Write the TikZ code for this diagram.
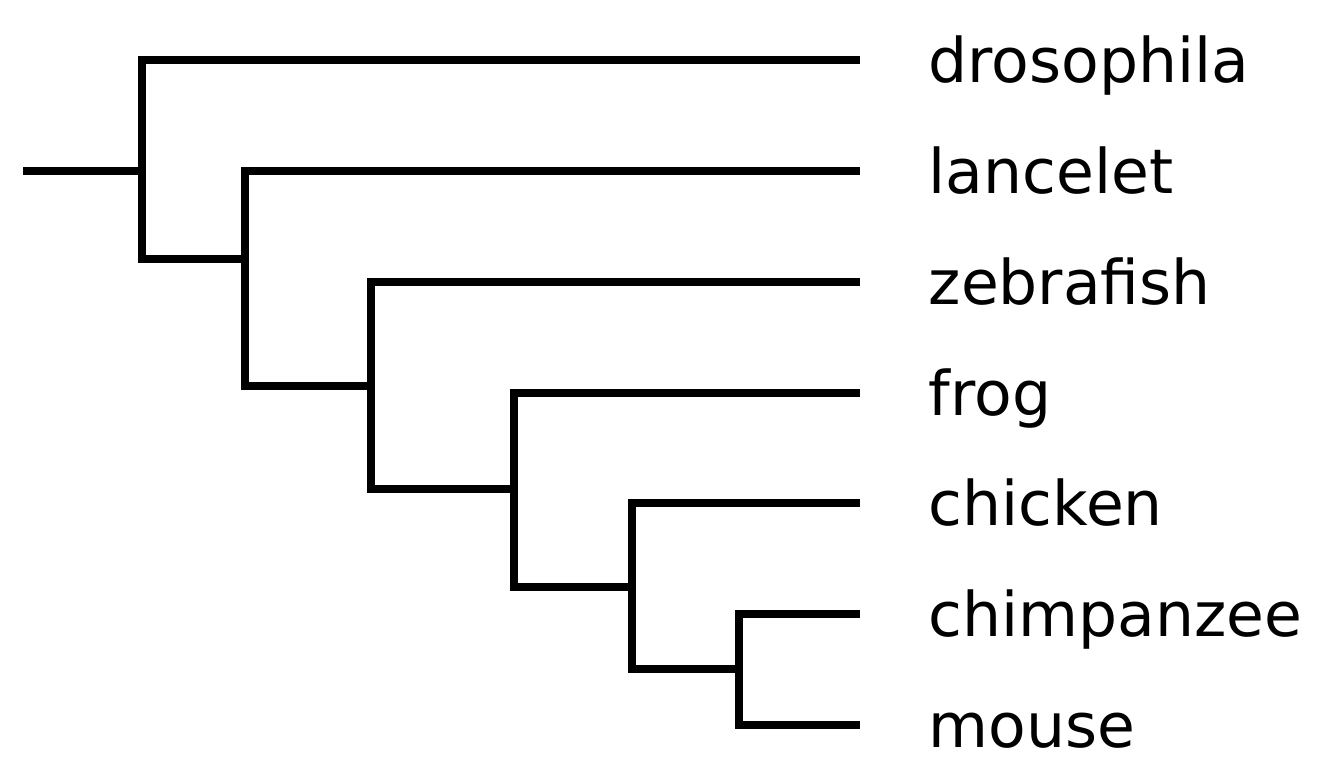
\documentclass[tikz,border=0pt]{standalone}
\usepackage{fontspec}
\setmainfont{DejaVu Sans}
\tikzset{
  branch/.style={line width=2.2pt, line join=miter},
  taxon/.style={anchor=base west, inner sep=0pt, font=\fontsize{17.5}{20}\selectfont}
}
\begin{document}
\begin{tikzpicture}[x=0.01cm,y=-0.01cm]
\def\tip{860}
\def\lab{928}
\useasboundingbox (0,0) rectangle (1344,768);

% leaves
\coordinate (tdro) at (\tip,60);
\coordinate (tlan) at (\tip,171);
\coordinate (tzeb) at (\tip,282);
\coordinate (tfro) at (\tip,393);
\coordinate (tchk) at (\tip,503);
\coordinate (tchp) at (\tip,614);
\coordinate (tmou) at (\tip,725);

% inner nodes
\coordinate (root) at (23,171);
\coordinate (n1) at (142,171);
\coordinate (n2) at (245,259);
\coordinate (n3) at (371,386);
\coordinate (n4) at (514,489);
\coordinate (n5) at (632,587);
\coordinate (n6) at (739,669);

\draw [branch] (root) -- (n1);
\draw [branch] (tdro) -| (n1) |- (n2);
\draw [branch] (tlan) -| (n2) |- (n3);
\draw [branch] (tzeb) -| (n3) |- (n4);
\draw [branch] (tfro) -| (n4) |- (n5);
\draw [branch] (tchk) -| (n5) |- (n6);
\draw [branch] (tchp) -| (n6) |- (tmou);

% names
\node [taxon] (dro) at (\lab,83) {drosophila};
\node [taxon] (lan) at (\lab,194) {lancelet};
\node [taxon] (zeb) at (\lab,305) {zebrafish};
\node [taxon] (fro) at (\lab,416) {frog};
\node [taxon] (chk) at (\lab,526) {chicken};
\node [taxon] (chp) at (\lab,637) {chimpanzee};
\node [taxon] (mou) at (\lab,748) {mouse};

\end{tikzpicture}
\end{document}
